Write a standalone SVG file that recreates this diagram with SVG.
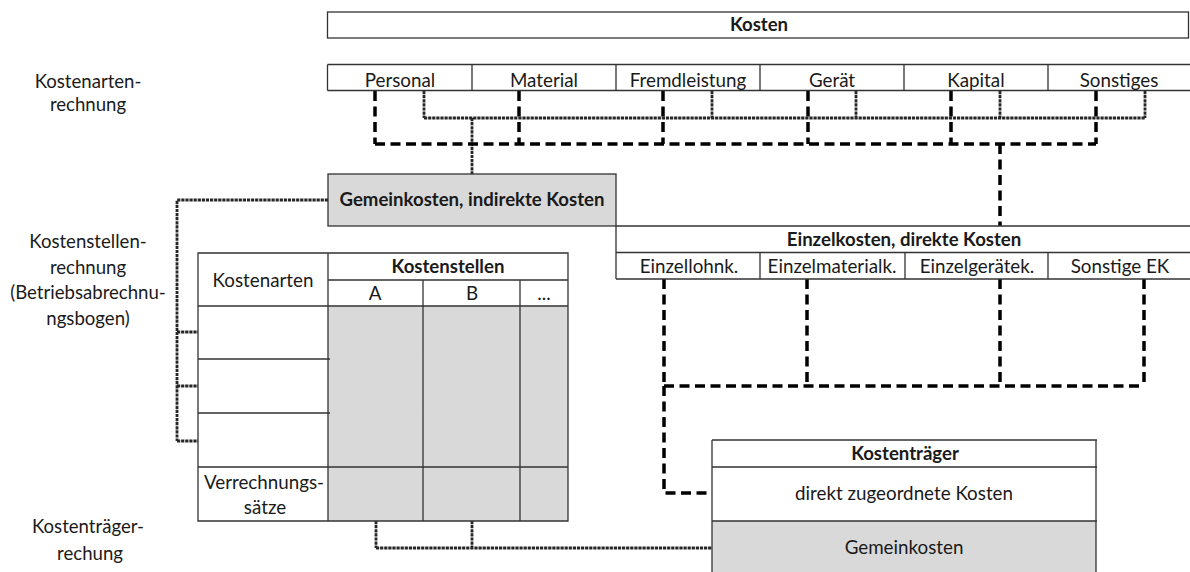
<svg xmlns="http://www.w3.org/2000/svg" width="1190" height="572" viewBox="0 0 1190 572">
  <style>
    text { font-family: Lato, "Liberation Sans", sans-serif; font-size: 18.8px; fill: #1a1a1a; text-anchor: middle; }
    .b { font-weight: bold; font-size: 18.6px; }
    .side { font-size: 18.6px; }
    .box { fill: #ffffff; stroke: #333333; stroke-width: 1.3; }
    .grey { fill: #d9d9d9; }
    .ln { stroke: #333333; stroke-width: 1.3; fill: none; }
    .thick { stroke: #000000; stroke-width: 3.5; fill: none; stroke-dasharray: 10 5.5; }
    .hatch { stroke: #262626; stroke-width: 2.8; fill: none; stroke-dasharray: 3.2 0.9; }
  </style>

  <rect width="1190" height="572" fill="#ffffff"/>

  <!-- row captions on the left -->
  <g id="labels" class="side">
    <text class="side" x="88" y="88">Kostenarten-</text>
    <text class="side" x="88" y="111">rechnung</text>
    <text class="side" x="88" y="248">Kostenstellen-</text>
    <text class="side" x="88" y="274">rechnung</text>
    <text class="side" x="88" y="299">(Betriebsabrechnu-</text>
    <text class="side" x="88" y="325">ngsbogen)</text>
    <text class="side" x="88" y="533">Kostenträger-</text>
    <text class="side" x="90" y="560">rechung</text>
  </g>

  <!-- connectors -->
  <g id="connectors">
    <!-- cost types to overhead costs -->
    <path class="hatch" d="M424 91 V118 M712 91 V118 M856 91 V118 M1000 91 V118 M1145 91 V118 M424 118 H1145 M472 118 V174"/>
    <!-- cost types to direct costs -->
    <path class="thick" d="M375 91 V144 M519 91 V144 M663 91 V144 M808 91 V144 M951 91 V144 M1096 91 V144 M375 144 H1096 M1000 144 V226"/>
    <!-- overhead costs into the cost centre sheet -->
    <path class="hatch" d="M328 200 H177 V441 M177 332 H198 M177 386 H198 M177 441 H198"/>
    <!-- allocation rates to cost objects -->
    <path class="hatch" d="M376 521 V548 M472 521 V548 M376 548 H712"/>
    <!-- direct costs to cost objects -->
    <path class="thick" d="M664 279 V386 M807 279 V386 M1000 279 V386 M1144 279 V386 M664 386 H1144 M664 386 V493 H712"/>
  </g>

  <!-- total costs -->
  <g id="kosten">
    <rect class="box" x="327.5" y="12" width="861" height="26"/>
    <text class="b" x="759" y="31">Kosten</text>
  </g>

  <!-- cost types -->
  <g id="kostenarten">
    <path class="ln" d="M327.5 64.5 H1190 M327.5 90.5 H1190 M327.5 64.5 V90.5 M472 64.5 V90.5 M616 64.5 V90.5 M760 64.5 V90.5 M904 64.5 V90.5 M1048 64.5 V90.5"/>
    <text x="400" y="87">Personal</text>
    <text x="544" y="87">Material</text>
    <text x="688" y="87">Fremdleistung</text>
    <text x="832" y="87">Gerät</text>
    <text x="976" y="87">Kapital</text>
    <text x="1119" y="87">Sonstiges</text>
  </g>

  <!-- overhead costs -->
  <g id="gemeinkosten">
    <rect class="box grey" x="328" y="174" width="288" height="52"/>
    <text class="b" x="472" y="206">Gemeinkosten, indirekte Kosten</text>
  </g>

  <!-- direct costs -->
  <g id="einzelkosten">
    <path class="ln" d="M616 226 H1190 M616 252.5 H1190 M616 279 H1190 M616 226 V279 M760 252.5 V279 M905 252.5 V279 M1048 252.5 V279"/>
    <text class="b" x="904" y="246">Einzelkosten, direkte Kosten</text>
    <text x="689" y="273">Einzellohnk.</text>
    <text x="832" y="273">Einzelmaterialk.</text>
    <text x="977" y="273">Einzelgerätek.</text>
    <text x="1120" y="273">Sonstige EK</text>
  </g>

  <!-- cost centre sheet -->
  <g id="kostenstellen">
    <rect class="grey" x="328" y="306" width="240" height="215"/>
    <path class="ln" d="M198 253 H568 V521 H198 Z M328 253 V521 M328 280 H568 M198 306 H568 M423 280 V521 M520 280 V521 M198 359 H330 M198 413 H330 M198 467 H568"/>
    <text x="263" y="287">Kostenarten</text>
    <text class="b" x="448" y="273">Kostenstellen</text>
    <text x="375" y="300">A</text>
    <text x="472" y="300">B</text>
    <text x="544" y="300">...</text>
    <text x="264" y="489">Verrechnungs-</text>
    <text x="265" y="514">sätze</text>
  </g>

  <!-- cost objects -->
  <g id="kostentraeger">
    <rect class="grey" x="712" y="521" width="384" height="52"/>
    <path class="ln" d="M712 440 H1097 M712 467 H1097 M712 521 H1097 M712 440 V572 M1096 440 V572"/>
    <text class="b" x="905" y="460">Kostenträger</text>
    <text x="904" y="500">direkt zugeordnete Kosten</text>
    <text x="904" y="554">Gemeinkosten</text>
  </g>
</svg>
